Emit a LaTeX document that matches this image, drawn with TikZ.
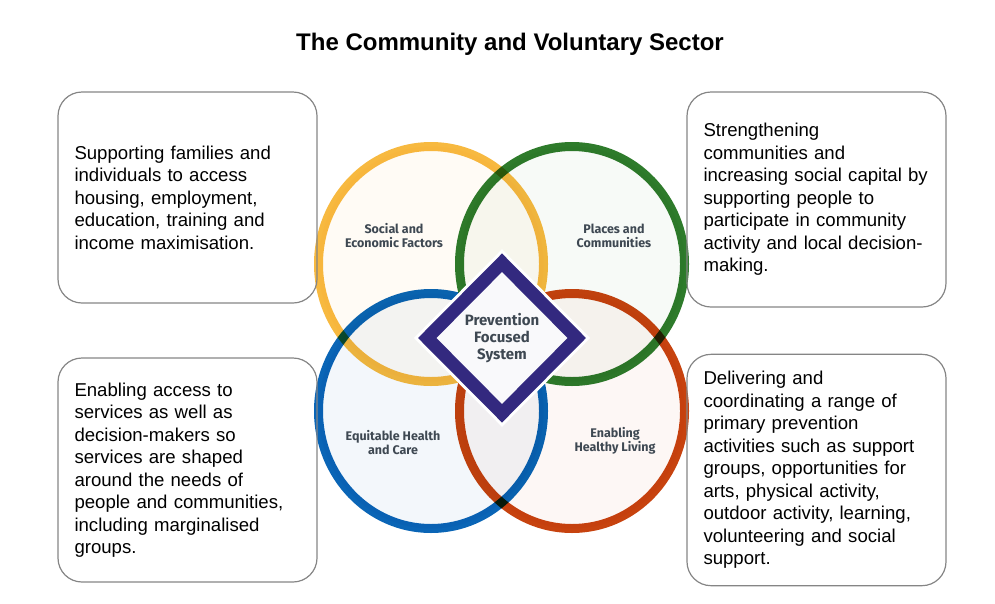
\documentclass[tikz,border=0pt]{standalone}
\usepackage{fontspec}
\setmainfont{Liberation Sans}
\newfontfamily\vennfont{Fira Sans}
\usetikzlibrary{shapes.geometric}
\definecolor{ringyellow}{HTML}{F7B940}
\definecolor{ringgreen}{HTML}{2E7B2B}
\definecolor{ringblue}{HTML}{0A65B6}
\definecolor{ringred}{HTML}{C7430F}
\definecolor{hubpurple}{HTML}{33297F}
\definecolor{labelgrey}{HTML}{3E4852}
\definecolor{boxgrey}{HTML}{858585}

\begin{document}
\begin{tikzpicture}[x=1pt, y=-1pt,
    ring/.style={ellipse, draw, line width=9pt, minimum width=225pt, minimum height=235pt},
    ringlabel/.style={font=\vennfont\bfseries\fontsize{12.5}{14}\selectfont, text=labelgrey, align=center},
    infobox/.style={draw=boxgrey, line width=1.2pt, rounded corners=24pt, minimum width=259pt, inner xsep=16.5pt, inner ysep=17pt, text width=226pt, align=left, font=\fontsize{18.6}{22.5}\selectfont}]
    \useasboundingbox (0,0) rectangle (995,603);
    \node[font=\bfseries\fontsize{24}{28}\selectfont] (title) at (510,44) {The Community and Voluntary Sector};

    \begin{scope}[blend group=multiply]
        \node[ring, draw=ringyellow, fill=ringyellow!5] (social) at (431,264) {};
        \node[ring, draw=ringgreen, fill=ringgreen!4] (places) at (572,264) {};
        \node[ring, draw=ringblue, fill=ringblue!5] (health) at (431,411) {};
        \node[ring, draw=ringred, fill=ringred!4] (living) at (572,411) {};
    \end{scope}

    \node[ringlabel] (sociallabel) at (394,236) {Social and\\Economic Factors};
    \node[ringlabel] (placeslabel) at (614,236) {Places and\\Communities};
    \node[ringlabel] (healthlabel) at (393,443) {Equitable Health\\and Care};
    \node[ringlabel] (livinglabel) at (615,441) {Enabling\\Healthy Living};

    \node[diamond, draw=hubpurple, line width=13pt, fill=hubpurple!3, inner sep=0pt,
        minimum width=155pt, minimum height=156pt, preaction={draw=white, line width=19pt},
        font=\vennfont\bfseries\fontsize{15}{17}\selectfont, text=labelgrey, align=center]
        (hub) at (502,338) {Prevention\\Focused\\System};

    \node[infobox, minimum height=211pt] (families) at (187.5,197.5) {Supporting families and\\individuals to access\\housing, employment,\\education, training and\\income maximisation.};
    \node[infobox, minimum height=215pt] (strengthen) at (816.5,199.5) {Strengthening\\communities and\\increasing social capital by\\supporting people to\\participate in community\\activity and local decision-\\making.};
    \node[infobox, minimum height=224pt] (access) at (187.5,470) {Enabling access to\\services as well as\\decision-makers so\\services are shaped\\around the needs of\\people and communities,\\including marginalised\\groups.};
    \node[infobox, minimum height=224pt] (delivering) at (816.5,470) {Delivering and\\coordinating a range of\\primary prevention\\activities such as support\\groups, opportunities for\\arts, physical activity,\\outdoor activity, learning,\\volunteering and social\\support.};
\end{tikzpicture}
\end{document}
